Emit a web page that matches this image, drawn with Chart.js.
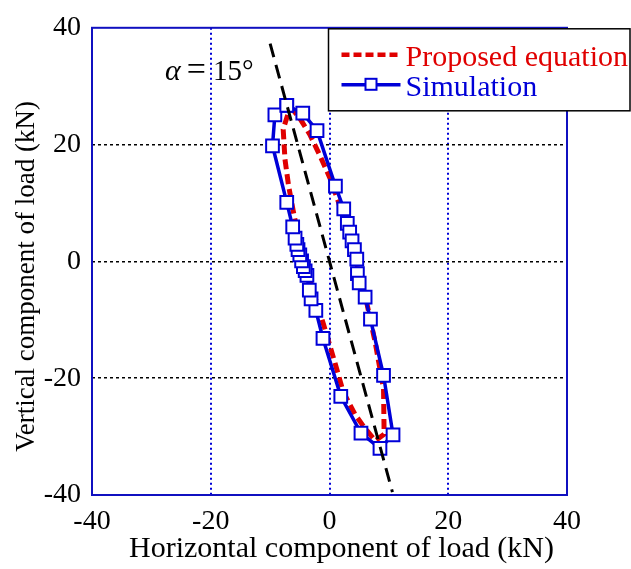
<!DOCTYPE html>
<html>
<head>
<meta charset="utf-8">
<script src="https://cdn.jsdelivr.net/npm/chart.js@4.4.0/dist/chart.umd.min.js"></script>
<style>
    body { margin: 0; background: #fff; }
</style>
</head>
<body>
<canvas id="canvas" width="631" height="569"></canvas>
<script>
    "use strict";
    // axis ticks
    var xTicks = [-40, -20, 0, 20, 40];
    var yTicks = [-40, -20, 0, 20, 40];

    // simulation loop (kN)
    var simX = [-7.2, -4.5, -2.1, 1.0, 2.4, 3.0, 3.4, 3.8, 4.2, 4.6, 4.7, 5.0, 6.0, 6.9, 9.1, 10.7, 8.5, 5.3, 1.9, -1.1, -2.3, -3.1, -3.4, -3.8, -4.1, -4.4, -4.7, -5.0, -5.3, -5.5, -5.8, -6.2, -7.2, -9.6, -9.2, -7.2];
    var simY = [26.7, 25.4, 22.4, 12.9, 9.0, 6.5, 5.0, 3.5, 2.0, 0.4, -2.1, -3.7, -6.1, -9.9, -19.5, -29.7, -32.0, -29.4, -23.1, -13.2, -8.4, -6.4, -4.9, -2.4, -1.6, -0.9, 0.1, 1.1, 2.0, 2.9, 4.0, 5.9, 10.1, 19.8, 25.1, 26.7];
    var simNoLine = [4, 12]; // stretch where the simulation line is not drawn

    // proposed equation loop (kN)
    var eqX = [-6.6, -5.0, -3.3, -1.6, 0.1, 1.5, 2.3, 3.5, 4.5, 5.5, 6.3, 7.7, 9.1, 9.2, 7.7, 5.7, 4.3, 2.3, 0.9, -1.0, -2.5, -4.0, -5.0, -6.1, -6.9, -7.5, -7.8, -6.6];
    var eqY = [26.5, 24.5, 21.7, 18.1, 14.2, 10.2, 7.4, 3.5, 0.0, -4.0, -7.2, -13.9, -21.8, -29.6, -30.7, -28.2, -26.2, -22.3, -17.3, -10.8, -6.0, -1.0, 3.0, 8.6, 13.0, 17.5, 22.6, 26.5];

    // alpha = 15 deg reference line
    var refX = [-10.0, 10.6];
    var refY = [37.3, -39.5];
    var alphaLabelAt = [-27.7, 31.0];

    var seriesNames = ['Proposed equation', 'Simulation'];
    var xTitle = 'Horizontal component of load (kN)';
    var yTitle = 'Vertical component of load (kN)';

    var FONT = '"Liberation Serif", "Times New Roman", serif';
    var RED = '#e00000';
    var BLUE = '#0000d8';

    function toPoints(xs, ys) {
        return xs.map(function (x, i) { return {x: x, y: ys[i]}; });
    }

    var extras = {
        id: 'extras',
        afterDraw: function (chart) {
            var ctx = chart.ctx;
            var a = chart.chartArea;
            var xs = chart.scales.x, ys = chart.scales.y;

            // frame
            ctx.save();
            ctx.strokeStyle = '#1010c0';
            ctx.lineWidth = 2;
            ctx.strokeRect(a.left, a.top, a.right - a.left, a.bottom - a.top);
            ctx.restore();

            // axis titles
            ctx.save();
            ctx.fillStyle = '#000';
            ctx.textAlign = 'center';
            ctx.textBaseline = 'middle';
            ctx.font = '30px ' + FONT;
            ctx.fillText(xTitle, (a.left + a.right) / 2 + 12, 549);
            ctx.translate(27, (a.top + a.bottom) / 2 + 15);
            ctx.rotate(-Math.PI / 2);
            ctx.font = '27px ' + FONT;
            ctx.fillText(yTitle, 0, 0);
            ctx.restore();

            // alpha label
            ctx.save();
            ctx.fillStyle = '#000';
            ctx.textBaseline = 'alphabetic';
            var px = xs.getPixelForValue(alphaLabelAt[0]);
            var py = ys.getPixelForValue(alphaLabelAt[1]);
            ctx.font = 'italic 30px ' + FONT;
            ctx.fillText('\u03b1', px, py);
            px += ctx.measureText('\u03b1').width + 6;
            ctx.font = '34px ' + FONT;
            ctx.fillText('=', px, py);
            px += ctx.measureText('=').width + 7;
            ctx.font = '29px ' + FONT;
            ctx.fillText('15\u00b0', px, py);
            ctx.restore();

            // legend
            var lx = xs.getPixelForValue(0) - 1, ly = a.top + 1;
            ctx.save();
            ctx.fillStyle = '#fff';
            ctx.fillRect(lx, ly, 630 - lx, 82);
            ctx.strokeStyle = '#000';
            ctx.lineWidth = 1.5;
            ctx.strokeRect(lx, ly, 630 - lx, 82);

            ctx.lineWidth = 4.5;
            ctx.strokeStyle = RED;
            ctx.setLineDash([8, 4]);
            ctx.beginPath();
            ctx.moveTo(lx + 13, ly + 26);
            ctx.lineTo(lx + 72, ly + 26);
            ctx.stroke();

            ctx.setLineDash([]);
            ctx.lineWidth = 3.5;
            ctx.strokeStyle = BLUE;
            ctx.beginPath();
            ctx.moveTo(lx + 13, ly + 56);
            ctx.lineTo(lx + 72, ly + 56);
            ctx.stroke();
            ctx.fillStyle = '#fff';
            ctx.lineWidth = 2;
            ctx.fillRect(lx + 37, ly + 50, 11, 11);
            ctx.strokeRect(lx + 37, ly + 50, 11, 11);

            ctx.font = '30px ' + FONT;
            ctx.textBaseline = 'alphabetic';
            ctx.fillStyle = RED;
            ctx.fillText(seriesNames[0], lx + 77, ly + 37);
            ctx.fillStyle = BLUE;
            ctx.fillText(seriesNames[1], lx + 77, ly + 67);
            ctx.restore();
        }
    };

    var ctx = document.getElementById('canvas').getContext('2d');
    var myChart = new Chart(ctx, {
        type: 'scatter',
        data: {
            datasets: [
                {
                    label: 'alpha',
                    data: toPoints(refX, refY),
                    showLine: true,
                    borderColor: '#000',
                    borderWidth: 3,
                    borderDash: [14, 8],
                    pointRadius: 0
                },
                {
                    label: seriesNames[1],
                    data: toPoints(simX, simY),
                    showLine: true,
                    borderColor: BLUE,
                    borderWidth: 3.5,
                    pointStyle: 'rect',
                    pointRadius: 9,
                    pointBorderWidth: 2,
                    pointBorderColor: BLUE,
                    pointBackgroundColor: '#fff',
                    segment: {
                        borderColor: function (c) {
                            if (c.p0DataIndex >= simNoLine[0] && c.p1DataIndex <= simNoLine[1]) return 'rgba(0,0,0,0)';
                            return undefined;
                        }
                    }
                },
                {
                    label: seriesNames[0],
                    data: toPoints(eqX, eqY),
                    showLine: true,
                    borderColor: RED,
                    borderWidth: 5,
                    borderDash: [10, 5],
                    pointRadius: 0
                }
            ]
        },
        options: {
            responsive: false,
            animation: false,
            layout: {padding: {top: 20, right: 64, left: 0, bottom: 0}},
            plugins: {legend: {display: false}, tooltip: {enabled: false}},
            scales: {
                x: {
                    type: 'linear', min: -40, max: 40,
                    afterBuildTicks: function (s) { s.ticks = xTicks.map(function (v) { return {value: v}; }); },
                    afterFit: function (s) { s.height = 74; },
                    ticks: {font: {family: FONT, size: 28}, color: '#000', padding: 10},
                    grid: {color: BLUE, lineWidth: 2, drawTicks: false},
                    border: {display: false, dash: [2, 3]}
                },
                y: {
                    type: 'linear', min: -40, max: 40,
                    afterBuildTicks: function (s) { s.ticks = yTicks.map(function (v) { return {value: v}; }); },
                    afterFit: function (s) { s.width = 92; },
                    ticks: {font: {family: FONT, size: 28}, color: '#000', padding: 11},
                    grid: {
                        color: function (c) { return Math.abs(c.tick.value) === 40 ? 'rgba(0,0,0,0)' : '#000'; },
                        lineWidth: 1.5, drawTicks: false
                    },
                    border: {display: false, dash: [3, 3]}
                }
            }
        },
        plugins: [extras]
    });
</script>
</body>
</html>
